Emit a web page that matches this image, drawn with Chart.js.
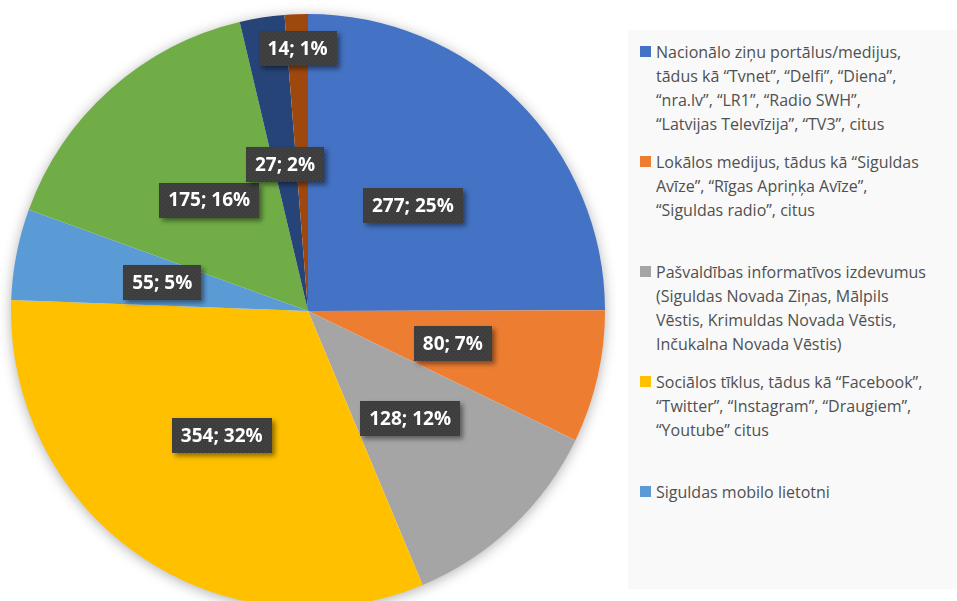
<!DOCTYPE html>
<html>
<head>
<meta charset="utf-8">
<script src="https://cdn.jsdelivr.net/npm/chart.js@4.4.1/dist/chart.umd.min.js"></script>
<style>
    html, body { margin: 0; padding: 0; background: #fff; overflow: hidden; }
    body { width: 957px; height: 601px; position: relative; }
    #pieWrap { position: absolute; left: 0; top: 0; width: 616px; height: 622px; }
    #legendBox {
        position: absolute; left: 628px; top: 30px; width: 329px; height: 559px;
        background: #f9f9f9; box-sizing: border-box; padding-top: 10px;
    }
    .legend-item {
        position: relative; height: 110px; padding-left: 28px;
        font-family: 'Open Sans', sans-serif; font-size: 16px; line-height: 24px; color: #505050;
    }
    .legend-item .swatch {
        position: absolute; left: 12px; top: 6px; width: 11px; height: 11px;
    }
</style>
</head>
<body>
<div id="pieWrap"><canvas id="mediaChart"></canvas></div>
<div id="legendBox"></div>
<script>
// Legend text, one line per array entry
const categories = [
    ['Nacionālo ziņu portālus/medijus,', 'tādus kā “Tvnet”, “Delfi”, “Diena”,', '“nra.lv”, “LR1”, “Radio SWH”,', '“Latvijas Televīzija”, “TV3”, citus'],
    ['Lokālos medijus, tādus kā “Siguldas', 'Avīze”, “Rīgas Apriņķa Avīze”,', '“Siguldas radio”, citus'],
    ['Pašvaldības informatīvos izdevumus', '(Siguldas Novada Ziņas, Mālpils', 'Vēstis, Krimuldas Novada Vēstis,', 'Inčukalna Novada Vēstis)'],
    ['Sociālos tīklus, tādus kā “Facebook”,', '“Twitter”, “Instagram”, “Draugiem”,', '“Youtube” citus'],
    ['Siguldas mobilo lietotni']
];
const answers = [277, 80, 128, 354, 55, 175, 27, 14];
const sliceColors = ['#4472C4', '#ED7D31', '#A5A5A5', '#FFC000', '#5B9BD5', '#70AD47', '#264478', '#9E480E'];
// how far out (share of the radius) each value box sits
const labelRadius = [0.5, 0.5, 0.5, 0.51, 0.5, 0.5, 0.5, 0.885];

// soft shadow under the whole pie
const pieShadow = {
    id: 'pieShadow',
    beforeDatasetsDraw(chart) {
        const arc = chart.getDatasetMeta(0).data[0];
        if (!arc) return;
        const ctx = chart.ctx;
        ctx.save();
        ctx.shadowColor = 'rgba(0,0,0,0.35)';
        ctx.shadowBlur = 14;
        ctx.shadowOffsetY = 2;
        ctx.fillStyle = '#fff';
        ctx.beginPath();
        ctx.arc(arc.x, arc.y, arc.outerRadius - 1, 0, Math.PI * 2);
        ctx.fill();
        ctx.restore();
    }
};

// dotted dark fill for the value boxes
function boxPattern(ctx) {
    const c = document.createElement('canvas');
    c.width = 4; c.height = 4;
    const p = c.getContext('2d');
    p.fillStyle = '#3d3d3d';
    p.fillRect(0, 0, 4, 4);
    p.fillStyle = '#4a4a4a';
    p.fillRect(0, 0, 1, 1);
    p.fillRect(2, 2, 1, 1);
    return ctx.createPattern(c, 'repeat');
}

const valueBoxes = {
    id: 'valueBoxes',
    afterDatasetsDraw(chart) {
        const ctx = chart.ctx;
        const meta = chart.getDatasetMeta(0);
        const data = chart.data.datasets[0].data;
        const total = data.reduce((a, b) => a + b, 0);
        const fill = boxPattern(ctx);
        ctx.save();
        ctx.font = 'bold 19px "Open Sans", sans-serif';
        ctx.textAlign = 'center';
        ctx.textBaseline = 'middle';
        meta.data.forEach((arc, i) => {
            const mid = (arc.startAngle + arc.endAngle) / 2;
            const r = arc.outerRadius * labelRadius[i];
            const x = arc.x + Math.cos(mid) * r;
            const y = arc.y + Math.sin(mid) * r;
            const text = data[i] + '; ' + Math.round(data[i] / total * 100) + '%';
            const w = ctx.measureText(text).width + 18;
            const h = 35;
            ctx.save();
            ctx.shadowColor = 'rgba(0,0,0,0.45)';
            ctx.shadowBlur = 5;
            ctx.shadowOffsetX = 3;
            ctx.shadowOffsetY = 3;
            ctx.fillStyle = fill;
            ctx.fillRect(Math.round(x - w / 2), Math.round(y - h / 2), Math.round(w), h);
            ctx.restore();
            ctx.fillStyle = '#ffffff';
            ctx.fillText(text, x, y + 1);
        });
        ctx.restore();
    }
};

const ctx = document.getElementById('mediaChart').getContext('2d');
const mediaChart = new Chart(ctx, {
    type: 'pie',
    data: {
        labels: categories,
        datasets: [{
            data: answers,
            backgroundColor: sliceColors,
            borderWidth: 0
        }]
    },
    options: {
        responsive: true,
        maintainAspectRatio: false,
        animation: false,
        layout: { padding: { left: 11, right: 11, top: 14, bottom: 14 } },
        plugins: {
            legend: { display: false },
            tooltip: { enabled: false }
        }
    },
    plugins: [pieShadow, valueBoxes]
});

// legend on the right, built from the chart's own labels and colours
const legendBox = document.getElementById('legendBox');
mediaChart.data.labels.forEach((lines, i) => {
    const item = document.createElement('div');
    item.className = 'legend-item';
    const sw = document.createElement('span');
    sw.className = 'swatch';
    sw.style.background = mediaChart.data.datasets[0].backgroundColor[i];
    item.appendChild(sw);
    lines.forEach(line => {
        const d = document.createElement('div');
        d.textContent = line;
        item.appendChild(d);
    });
    legendBox.appendChild(item);
});
</script>
</body>
</html>
